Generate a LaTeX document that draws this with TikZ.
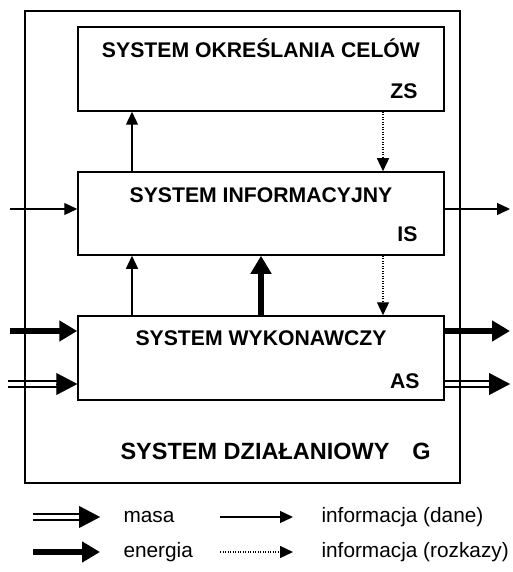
\documentclass[tikz,border=0pt]{standalone}
\usepackage{fontspec}
\setmainfont{Liberation Sans}
\usetikzlibrary{arrows.meta,calc}
\begin{document}
\begin{tikzpicture}[x=1pt,y=-1pt,
  box/.style={draw,line width=1.5pt,minimum width=366pt,inner sep=0pt},
  title/.style={anchor=base,font=\fontsize{21.2}{25}\selectfont\bfseries},
  tag/.style={anchor=base east,font=\fontsize{21.2}{25}\selectfont\bfseries},
  legtext/.style={anchor=base west,font=\fontsize{20.8}{25}\selectfont},
  infoarrow/.style={line width=1.3pt,-{Triangle[length=13pt,width=12pt]}},
  cmdarrow/.style={line width=1.2pt,dash pattern=on 1.2pt off 1.3pt,-{Triangle[length=13pt,width=12pt]}},
  energyarrow/.style={line width=6pt,-{Triangle[length=18pt,width=20pt]}},
  massline/.style={double,double distance=4.5pt,line width=1.5pt,shorten >=18pt},
  masstip/.style={line width=0.1pt,-{Triangle[length=21pt,width=22pt]}}
]
\useasboundingbox (0,0) rectangle (512,572);

% subsystems
\node[box,minimum height=84pt] (zs) at (261,69) {};
\node[box,minimum height=83pt] (is) at (261,213.5) {};
\node[box,minimum height=84pt] (as) at (261,358) {};

\node[title] (zst) at (261,57.5) {SYSTEM OKREŚLANIA CELÓW};
\node[tag] (zsl) at (421,98.5) {ZS};
\node[title] (ist) at (261,202.5) {SYSTEM INFORMACYJNY};
\node[tag] (isl) at (421,241.5) {IS};
\node[title] (ast) at (261,345.5) {SYSTEM WYKONAWCZY};
\node[tag] (asl) at (423,388.5) {AS};

% columns of the vertical connectors
\coordinate (colA) at (132,0);
\coordinate (colB) at (261,0);
\coordinate (colC) at (383,0);

\draw[infoarrow] (is.north -| colA) -- (zs.south -| colA);
\draw[cmdarrow] (zs.south -| colC) -- (is.north -| colC);
\draw[infoarrow] (as.north -| colA) -- (is.south -| colA);
\draw[energyarrow] (as.north -| colB) -- (is.south -| colB);
\draw[cmdarrow] (is.south -| colC) -- (as.north -| colC);

% flows across the system boundary
\coordinate (infoIn) at (10,209);
\coordinate (infoOut) at (510,209);
\coordinate (enIn) at (10,331);
\coordinate (enOut) at (510,331);
\coordinate (maIn) at (8,384);
\coordinate (maOut) at (510,384);

\draw[infoarrow] (infoIn) -- (is.west |- infoIn);
\draw[infoarrow] (is.east |- infoOut) -- (infoOut);
\draw[energyarrow] (enIn) -- (as.west |- enIn);
\draw[energyarrow] (as.east |- enOut) -- (enOut);
\draw[massline] (maIn) -- (as.west |- maIn);
\draw[masstip] ($(as.west |- maIn)+(-21,0)$) -- (as.west |- maIn);
\draw[massline] (as.east |- maOut) -- (maOut);
\draw[masstip] ($(maOut)+(-21,0)$) -- (maOut);

% system boundary
\node[draw,line width=2pt,minimum width=435pt,minimum height=472pt,inner sep=0pt] (g) at (242.5,247) {};
\node[anchor=base west,font=\fontsize{23.5}{28}\selectfont\bfseries] (gt) at (117,459) {SYSTEM DZIAŁANIOWY\hspace{23pt}G};

% legend
\coordinate (lmA) at (33,517);
\coordinate (lmB) at (100,517);
\coordinate (leA) at (33,552);
\coordinate (leB) at (100,552);
\coordinate (liA) at (220,517);
\coordinate (liB) at (293,517);
\coordinate (lcA) at (220,552);
\coordinate (lcB) at (293,552);

\draw[massline] (lmA) -- (lmB);
\draw[masstip] ($(lmB)+(-21,0)$) -- (lmB);
\draw[energyarrow] (leA) -- (leB);
\draw[infoarrow] (liA) -- (liB);
\draw[cmdarrow] (lcA) -- (lcB);

\node[legtext] (lm) at (120,522) {masa};
\node[legtext] (le) at (120,557) {energia};
\node[legtext] (li) at (318,522) {informacja (dane)};
\node[legtext] (lc) at (318,557) {informacja (rozkazy)};
\end{tikzpicture}
\end{document}
